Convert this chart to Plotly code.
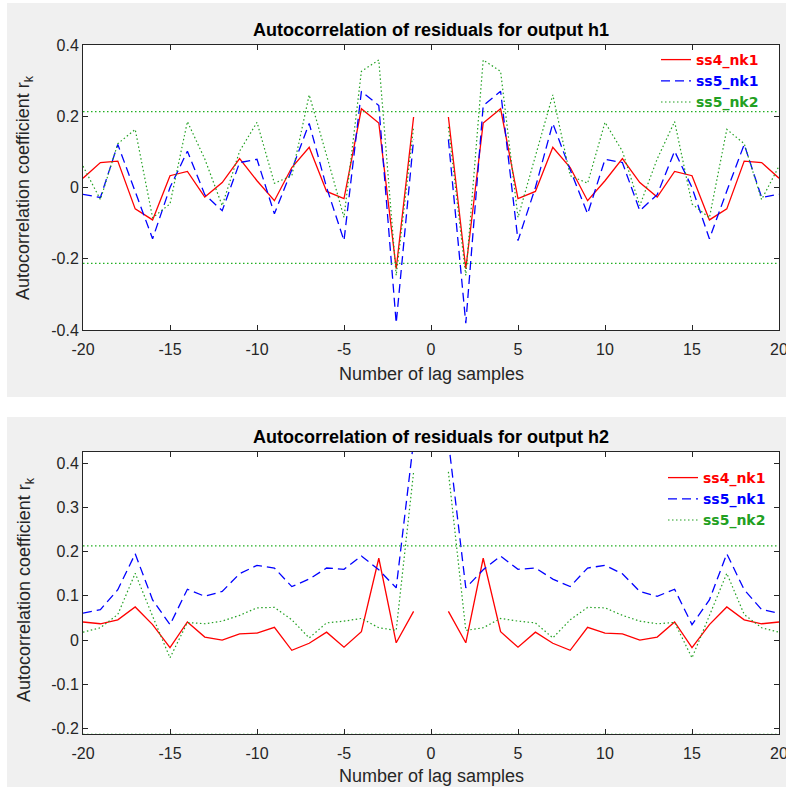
import plotly.graph_objects as go

# lags k = 1..20 (autocorrelation is symmetric, lag 0 omitted)
lags_pos = list(range(1, 21))
h1_ss4_nk1 = [0.198, -0.228, 0.181, 0.221, -0.031, -0.011, 0.113, 0.056, -0.037, 0.019,
              0.081, 0.014, -0.027, 0.045, 0.033, -0.091, -0.060, 0.074, 0.070, 0.026]
h1_ss5_nk1 = [0.135, -0.381, 0.230, 0.270, -0.149, 0.000, 0.180, 0.050, -0.074, 0.079,
              0.070, -0.065, -0.020, 0.102, 0.000, -0.144, -0.010, 0.121, -0.028, -0.019]
h1_ss5_nk2 = [0.170, -0.247, 0.358, 0.326, -0.084, 0.090, 0.260, 0.033, 0.012, 0.183,
              0.102, -0.051, 0.080, 0.185, -0.046, -0.085, 0.163, 0.123, -0.034, 0.060]
h2_ss4_nk1 = [0.065, -0.006, 0.185, 0.019, -0.016, 0.018, -0.007, -0.023, 0.029, 0.016,
              0.014, 0.000, 0.007, 0.041, -0.017, 0.035, 0.075, 0.046, 0.037, 0.041]
h2_ss5_nk1 = [0.450, 0.118, 0.159, 0.190, 0.160, 0.163, 0.138, 0.121, 0.163, 0.169,
              0.150, 0.110, 0.099, 0.115, 0.035, 0.091, 0.195, 0.114, 0.069, 0.061]
h2_ss5_nk2 = [0.380, 0.022, 0.028, 0.049, 0.043, 0.039, 0.005, 0.046, 0.074, 0.073,
              0.056, 0.043, 0.037, 0.040, -0.040, 0.054, 0.151, 0.058, 0.028, 0.018]
conf_bound = 0.213
series_names = ["ss4_nk1", "ss5_nk1", "ss5_nk2"]
series_colors = ["#ff0000", "#0000ff", "#22a022"]
x_ticks = [-20, -15, -10, -5, 0, 5, 10, 15, 20]
x_ticktext = ["-20", "-15", "-10", "-5", "0", "5", "10", "15", "20"]
y1_ticks = [-0.4, -0.2, 0, 0.2, 0.4]
y1_ticktext = ["-0.4", "-0.2", "0", "0.2", "0.4"]
y2_ticks = [-0.2, -0.1, 0, 0.1, 0.2, 0.3, 0.4]
y2_ticktext = ["-0.2", "-0.1", "0", "0.1", "0.2", "0.3", "0.4"]


def full(vals):
    xs = [-k for k in reversed(lags_pos)] + [0] + lags_pos
    ys = list(reversed(vals)) + [None] + vals
    return xs, ys


W, H = 786, 787
FONT = "Liberation Sans, Arial, sans-serif"
fig = go.Figure()

styles = [dict(width=1.3, dash="solid"), dict(width=1.3, dash="9px,5px"), dict(width=1.2, dash="1.5px,2.5px")]

for sub, data, leg in [("", [h1_ss4_nk1, h1_ss5_nk1, h1_ss5_nk2], "legend"),
                       ("2", [h2_ss4_nk1, h2_ss5_nk1, h2_ss5_nk2], "legend2")]:
    xa, ya = "x" + sub, "y" + sub
    for name, col, st, vals in zip(series_names, series_colors, styles, data):
        xs, ys = full(vals)
        fig.add_trace(go.Scatter(
            x=xs, y=ys, mode="lines", connectgaps=False,
            line=dict(color=col, width=st["width"], dash=st["dash"]),
            name="<b><span style='color:%s'>%s</span></b>" % (col, name),
            xaxis=xa, yaxis=ya, legend=leg))
    for c in (conf_bound, -conf_bound):
        fig.add_trace(go.Scatter(
            x=[x_ticks[0], x_ticks[-1]], y=[c, c], mode="lines",
            line=dict(color="#22b022", width=1.4, dash="1.5px,2.5px"),
            showlegend=False, hoverinfo="skip", xaxis=xa, yaxis=ya))

x0, x1 = 83 / W, 779 / W
top_dom = [1 - 330 / H, 1 - 45 / H]
bot_dom = [1 - 734 / H, 1 - 452 / H]

axis_common = dict(showgrid=False, zeroline=False, showline=True, linecolor="#262626",
                   linewidth=1, mirror="ticks", ticks="inside", ticklen=5,
                   tickcolor="#262626", ticklabeloverflow="allow", automargin=False,
                   tickfont=dict(family=FONT, size=16, color="#262626"))

fig.update_layout(
    width=W, height=H, margin=dict(l=0, r=0, t=0, b=0),
    paper_bgcolor="white", plot_bgcolor="white",
    xaxis=dict(domain=[x0, x1], range=[-20, 20], tickvals=x_ticks, ticktext=x_ticktext,
               anchor="y", ticklabelstandoff=5, **axis_common),
    yaxis=dict(domain=top_dom, range=[-0.4, 0.4], tickvals=y1_ticks, ticktext=y1_ticktext,
               anchor="x", **axis_common),
    xaxis2=dict(domain=[x0, x1], range=[-20, 20], tickvals=x_ticks, ticktext=x_ticktext,
                anchor="y2", ticklabelstandoff=5, **axis_common),
    yaxis2=dict(domain=bot_dom, range=[-0.212, 0.425], tickvals=y2_ticks, ticktext=y2_ticktext,
                anchor="x2", **axis_common),
    legend=dict(x=764 / W, xanchor="right", y=1 - 44 / H, yanchor="top",
                bgcolor="rgba(0,0,0,0)", font=dict(family="DejaVu Sans", size=14),
                itemwidth=30, tracegroupgap=0),
    legend2=dict(x=771 / W, xanchor="right", y=1 - 462 / H, yanchor="top",
                 bgcolor="rgba(0,0,0,0)", font=dict(family="DejaVu Sans", size=14),
                 itemwidth=30, tracegroupgap=0),
    shapes=[
        dict(type="rect", xref="paper", yref="paper", x0=7 / W, x1=1, y0=1 - 397 / H,
             y1=1 - 3 / H, fillcolor="#f0f0f0", line=dict(width=0), layer="below"),
        dict(type="rect", xref="paper", yref="paper", x0=7 / W, x1=1, y0=0,
             y1=1 - 417 / H, fillcolor="#f0f0f0", line=dict(width=0), layer="below"),
        dict(type="rect", xref="paper", yref="paper", x0=x0, x1=x1, y0=top_dom[0],
             y1=top_dom[1], fillcolor="white", line=dict(width=0), layer="below"),
        dict(type="rect", xref="paper", yref="paper", x0=x0, x1=x1, y0=bot_dom[0],
             y1=bot_dom[1], fillcolor="white", line=dict(width=0), layer="below"),
    ],
)

xc = (83 + 779) / 2 / W
ann = []
for title, ty, xty, ylc in [("Autocorrelation of residuals for output h1", 30, 374, 188),
                           ("Autocorrelation of residuals for output h2", 437, 776, 590)]:
    ann.append(dict(text="<b>%s</b>" % title, x=xc, y=1 - ty / H, xref="paper", yref="paper",
                    showarrow=False, xanchor="center", yanchor="middle",
                    font=dict(family=FONT, size=18, color="black")))
    ann.append(dict(text="Number of lag samples", x=xc, y=1 - xty / H, xref="paper",
                    yref="paper", showarrow=False, xanchor="center", yanchor="middle",
                    font=dict(family=FONT, size=18, color="#262626")))
    ann.append(dict(text="Autocorrelation coefficient r<sub>k</sub>", x=25 / W, y=1 - ylc / H,
                    xref="paper", yref="paper", showarrow=False, textangle=-90,
                    xanchor="center", yanchor="middle",
                    font=dict(family=FONT, size=18, color="#262626")))
fig.update_layout(annotations=ann)

fig.write_html("out.html")
